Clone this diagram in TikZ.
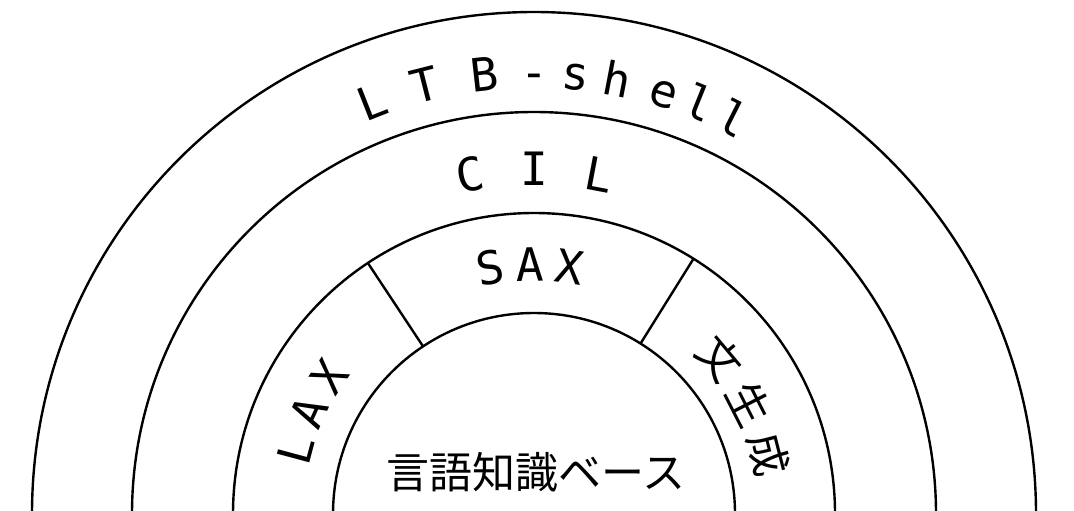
\documentclass[tikz,border=0pt]{standalone}
\usepackage{fontspec}
\newfontfamily\ringfont{DejaVu Sans Mono}
\newfontfamily\jpfont{Noto Sans CJK JP}

\tikzset{
	ring/.style={line width=1.2pt},
	ringchar/.style={anchor=base, inner sep=0pt, font=\ringfont\fontsize{23}{26}\selectfont},
	jpchar/.style={inner sep=0pt, font=\jpfont\fontsize{21.5}{24}\selectfont}
}

\begin{document}
\begin{tikzpicture}[x=0.5pt, y=0.5pt]
		%%%%% START %%%%%
		
		\useasboundingbox (0, 0) rectangle (1074, 510);
		\clip (0, 0) rectangle (1074, 510);
		
		\begin{scope}[shift={(534, -4)}]
		\coordinate (o) at (0, 0);
		
		\draw[ring] (o) circle (502);
		\draw[ring] (o) circle (402);
		\draw[ring] (o) circle (301);
		\draw[ring] (o) circle (201);
		
		\draw[ring] (58:201) -- (58:301);
		\draw[ring] (123.5:201) -- (123.5:301);
		
		\foreach \ch/\ang [count=\i] in {L/111.5, T/104.3, B/96.4, -/90, s/84.6, h/79.1, e/72.9, l/68.0, l/63.2}
			\node[ringchar, rotate=\ang-90] (ltb\i) at (\ang:426) {\ch};
		
		\foreach \ch/\ang [count=\i] in {C/100.7, I/90, L/79.2}
			\node[ringchar, rotate=\ang-90] (cil\i) at (\ang:329) {\ch};
		
		\foreach \ch/\ang [count=\i] in {S/100, A/90.9, X/81.7}
			\node[ringchar, rotate=\ang-90] (sax\i) at (\ang:233) {\ch};
		
		\foreach \ch/\ang [count=\i] in {L/165, A/155.6, X/146.2}
			\node[ringchar, rotate=\ang-90] (lax\i) at (\ang:230) {\ch};
		
		\foreach \ch/\ang [count=\i] in {文/40, 生/27, 成/14.4}
			\node[jpchar, rotate=\ang-90] (gen\i) at (\ang:242) {\ch};
		
		\node[jpchar] (kb) at (2, 42) {言語知識ベース};
		\end{scope}
		
		%%%%% END %%%%%
\end{tikzpicture}
\end{document}
